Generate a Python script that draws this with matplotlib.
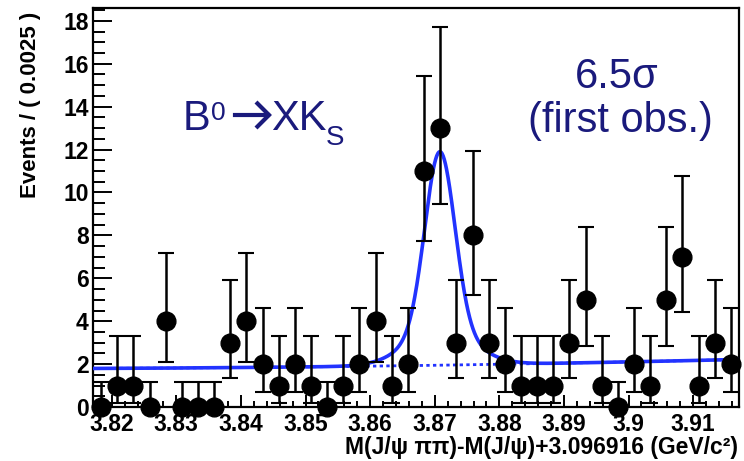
import math
import numpy as np
import matplotlib
matplotlib.use("Agg")
import matplotlib.pyplot as plt
from matplotlib.lines import Line2D
from matplotlib.ticker import MultipleLocator, FuncFormatter

# ---- data: events per 0.0025 GeV/c^2 bin ----
x_lo, x_hi = 3.8171, 3.9171
bin_width = 0.0025
counts = [0, 1, 1, 0, 4, 0, 0, 0, 3, 4,
          2, 1, 2, 1, 0, 1, 2, 4, 1, 2,
          11, 13, 3, 8, 3, 2, 1, 1, 1, 3,
          5, 1, 0, 2, 1, 5, 7, 1, 3, 2]

# ---- fit model: quadratic background + double-Gaussian signal ----
bkg_coef = [1.80, 0.12, 0.30]          # b0 + b1*t + b2*t^2, t = (m - x_lo)/0.1
sig_mean = 3.8708
core_height, core_sigma = 8.3, 0.0023
tail_height, tail_sigma = 1.65, 0.0050

x_ticks = [3.82, 3.83, 3.84, 3.85, 3.86, 3.87, 3.88, 3.89, 3.90, 3.91]
y_ticks = [0, 2, 4, 6, 8, 10, 12, 14, 16, 18]

ink = "#1a1a7c"
fit_blue = "#2233ff"

W, H = 744, 461


def pois_cdf(n, mu):
    term, total = math.exp(-mu), math.exp(-mu)
    for k in range(1, n + 1):
        term *= mu / k
        total += term
    return total


def solve(f, target, lo, hi, increasing):
    for _ in range(200):
        mid = 0.5 * (lo + hi)
        val = f(mid)
        if (val < target) == increasing:
            lo = mid
        else:
            hi = mid
    return 0.5 * (lo + hi)


def poisson_interval(n, p=0.1586553):
    # central 68.27% interval on the Poisson mean
    if n == 0:
        return 0.0, -math.log(2 * p)
    lo = solve(lambda mu: 1 - pois_cdf(n - 1, mu), p, 0.0, n + 50, True)
    hi = solve(lambda mu: pois_cdf(n, mu), p, 0.0, n + 50, False)
    return lo, hi


def background(m):
    t = (m - x_lo) / 0.1
    return bkg_coef[0] + bkg_coef[1] * t + bkg_coef[2] * t ** 2


def total_pdf(m):
    sig = (core_height * np.exp(-0.5 * ((m - sig_mean) / core_sigma) ** 2)
           + tail_height * np.exp(-0.5 * ((m - sig_mean) / tail_sigma) ** 2))
    return background(m) + sig


def fpos(x, y):
    """Figure-fraction position from pixel offsets measured from the top-left."""
    return x / W, 1 - y / H


centers = x_lo + bin_width * (np.arange(len(counts)) + 0.5)
n = np.array(counts, dtype=float)
intervals = np.array([poisson_interval(c) for c in counts])
err_lo = n - intervals[:, 0]
err_hi = intervals[:, 1] - n

plt.rcParams["font.family"] = ["Liberation Sans", "DejaVu Sans"]

fig = plt.figure(figsize=(W / 100, H / 100), dpi=100)
ax = fig.add_axes([0.125, 0.117, 0.8683, 0.8657])

mm = np.linspace(x_lo, x_hi, 1200)
ax.plot(mm, background(mm), color=fit_blue, lw=2.0, ls=(0, (1.2, 1.2)), zorder=2)
ax.plot(mm, total_pdf(mm), color=fit_blue, lw=2.6, zorder=3)

ax.errorbar(centers, n, yerr=[err_lo, err_hi], fmt="o", color="black",
            ms=13.5, elinewidth=1.8, capsize=5.5, capthick=1.5, zorder=4,
            clip_on=False)

ax.set_xlim(x_lo, x_hi)
ax.set_ylim(0, 18.6)

ax.set_xticks(x_ticks)
ax.xaxis.set_minor_locator(MultipleLocator(0.002))
ax.set_yticks(y_ticks)
ax.yaxis.set_minor_locator(MultipleLocator(0.5))
ax.xaxis.set_major_formatter(FuncFormatter(lambda v, p: f"{round(v, 4):g}"))
ax.yaxis.set_major_formatter(FuncFormatter(lambda v, p: f"{v:g}"))

ax.tick_params(axis="both", which="both", direction="in", top=False, right=False,
               width=1.4, labelsize=16.5)
ax.tick_params(axis="y", which="major", length=14, pad=3)
ax.tick_params(axis="y", which="minor", length=8.5)
ax.tick_params(axis="x", which="major", length=8.5, pad=4)
ax.tick_params(axis="x", which="minor", length=4.5)
for lab in ax.get_xticklabels() + ax.get_yticklabels():
    lab.set_fontweight("bold")

for sp in ax.spines.values():
    sp.set_linewidth(1.6)

ax.set_ylabel("Events / ( 0.0025 )", fontsize=16, fontweight="bold")
ax.yaxis.set_label_coords(-0.08, 0.757)
ax.set_xlabel("M(J/ψ ππ)-M(J/ψ)+3.096916 (GeV/c²)", fontsize=16.5,
              fontweight="bold", ha="right", va="top")
ax.xaxis.set_label_coords(0.9985, -0.073)

# ---- decay label: B0 -> X K_S ----
fig.text(*fpos(183, 130), "B", fontsize=30, color=ink, ha="left", va="baseline")
fig.text(*fpos(211, 120), "0", fontsize=19, color=ink, ha="left", va="baseline")
arrow_y = 115
fig.add_artist(Line2D([235 / W, 268 / W], [1 - arrow_y / H] * 2,
                      transform=fig.transFigure, color=ink, lw=3.0))
fig.add_artist(Line2D([256 / W, 269 / W, 256 / W],
                      [1 - 102 / H, 1 - arrow_y / H, 1 - 128 / H],
                      transform=fig.transFigure, color=ink, lw=3.0,
                      solid_joinstyle="miter", solid_capstyle="butt"))
fig.text(*fpos(271, 130), "XK", fontsize=30, color=ink, ha="left", va="baseline")
fig.text(*fpos(326, 145), "S", fontsize=20, color=ink, ha="left", va="baseline")

# ---- significance annotation ----
fig.text(*fpos(617, 88), "6.5σ", fontsize=30, color=ink, ha="center", va="baseline")
fig.text(*fpos(620, 132), "(first obs.)", fontsize=30, color=ink,
         ha="center", va="baseline")

fig.savefig("out.png", dpi=100)
